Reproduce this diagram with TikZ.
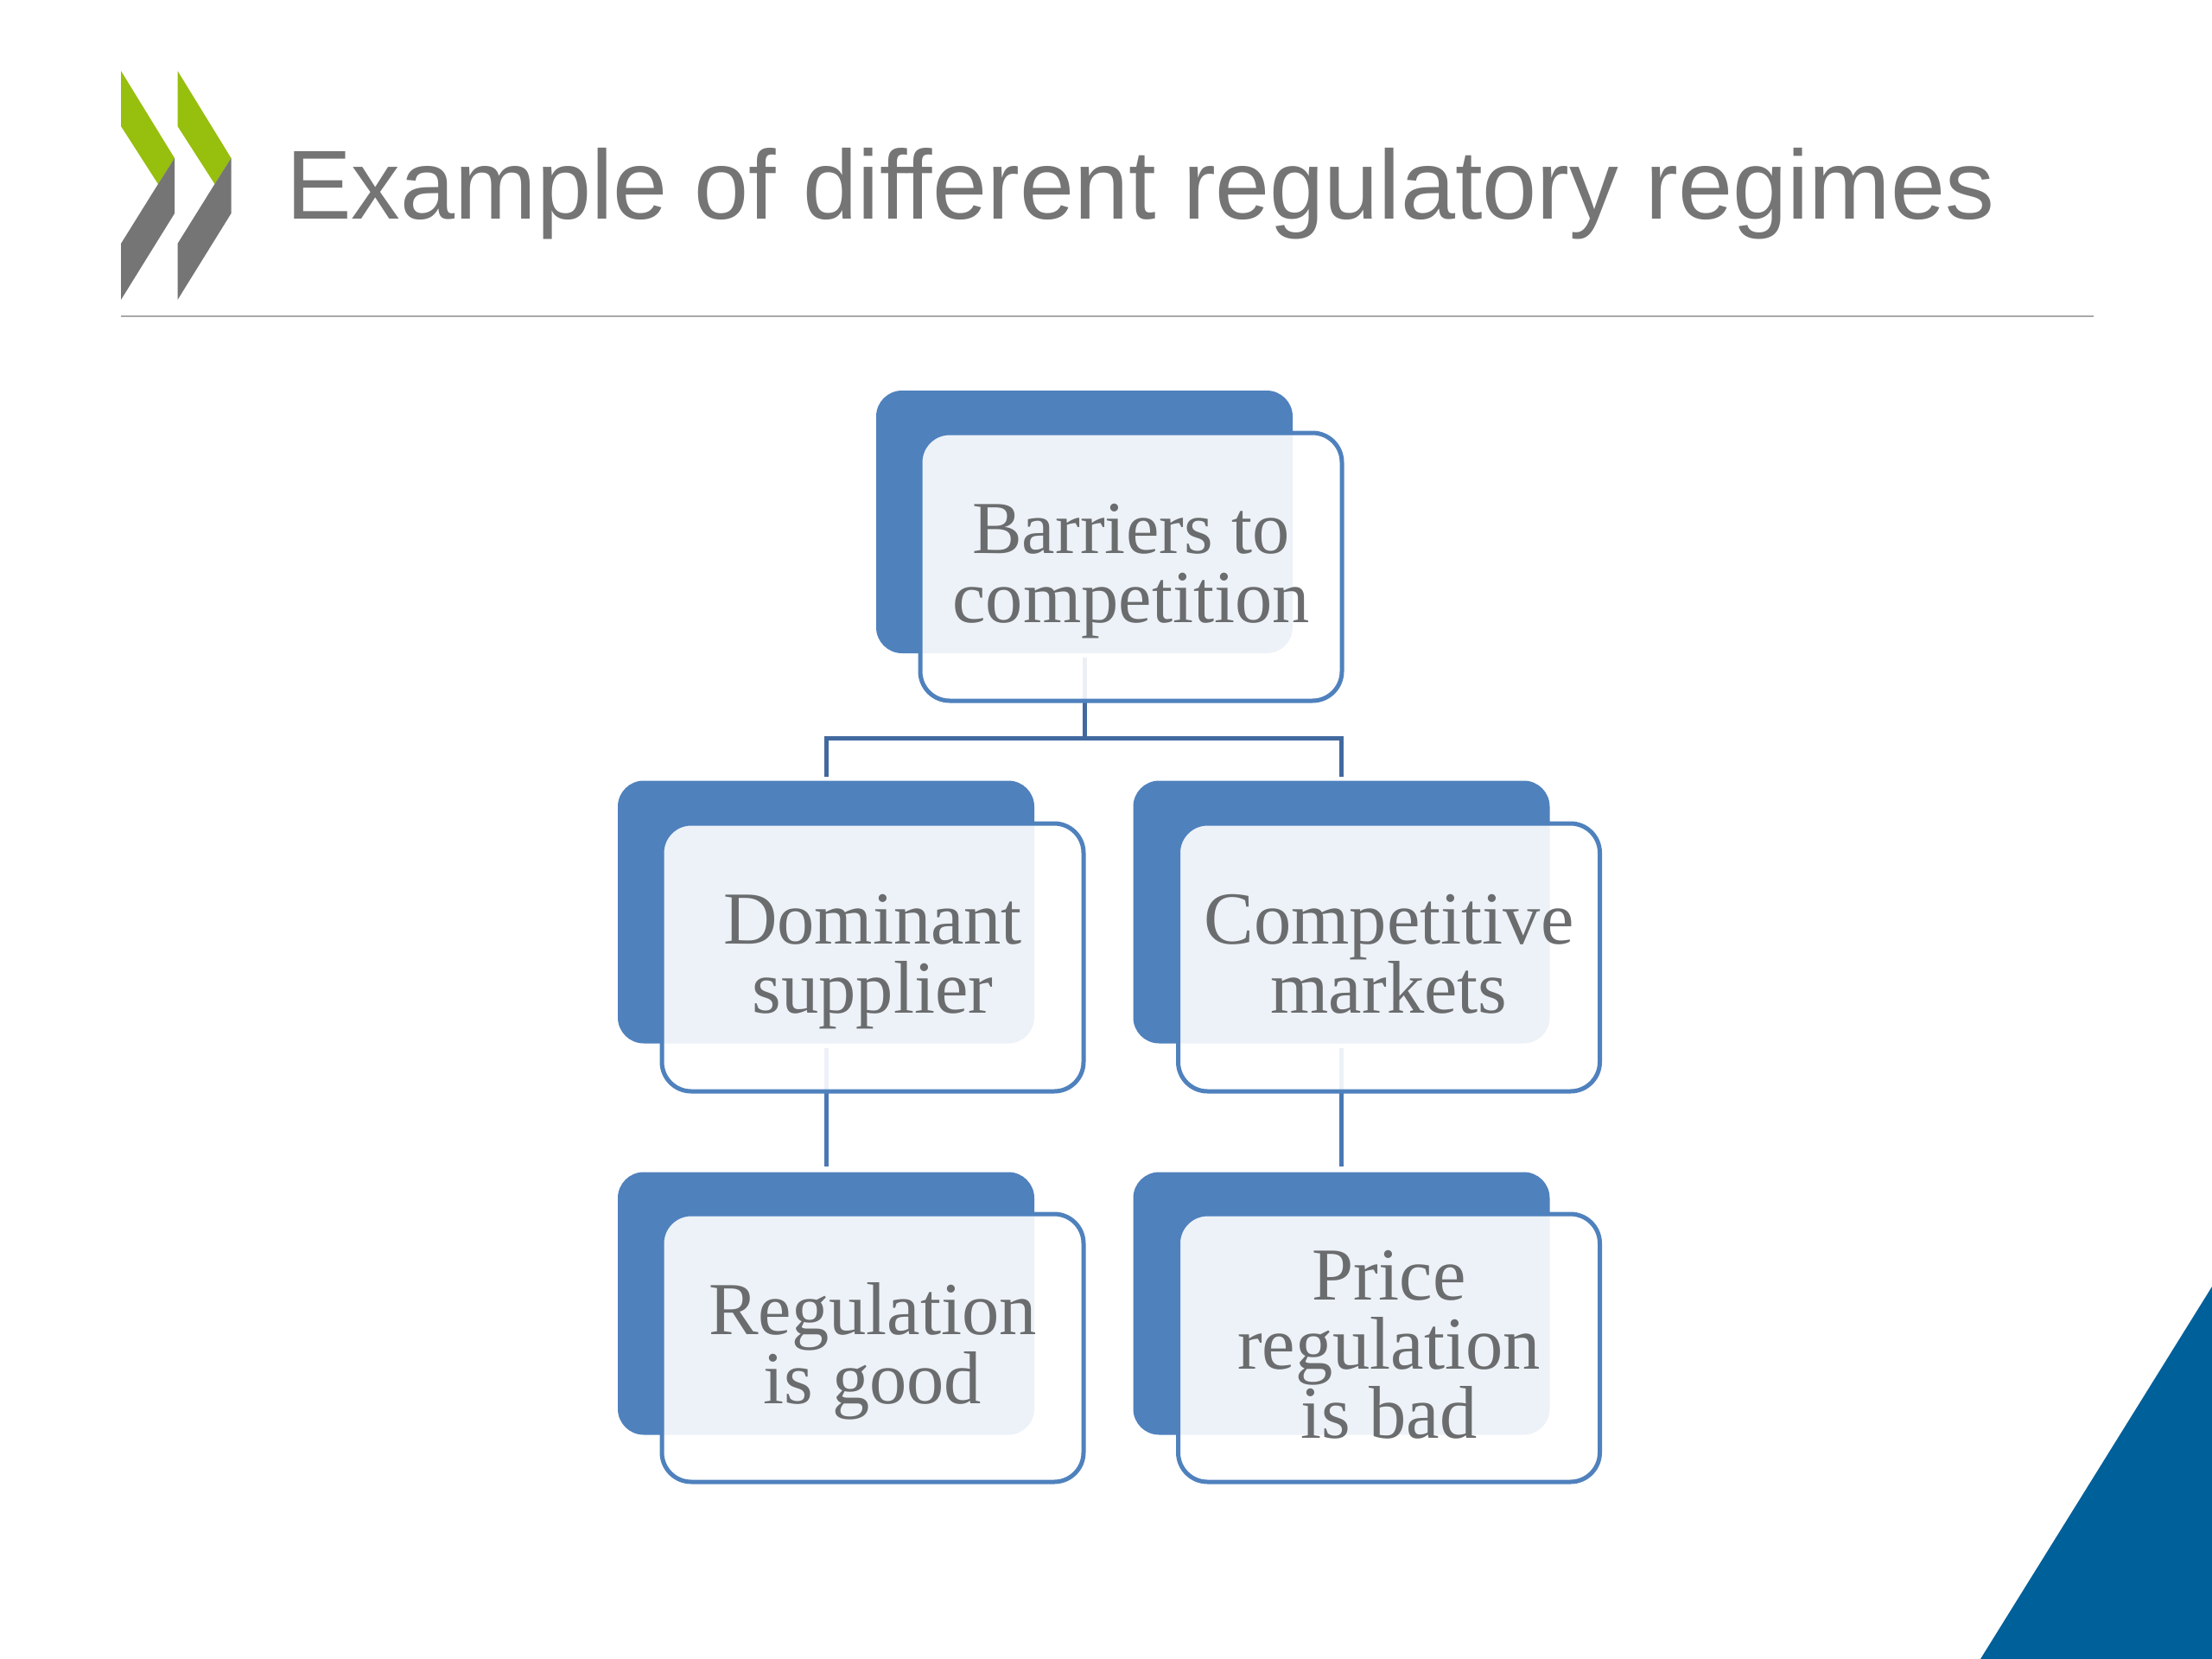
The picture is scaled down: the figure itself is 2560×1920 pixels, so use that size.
\documentclass[tikz,border=0pt]{standalone}
\usepackage{fontspec}
\setmainfont{Liberation Sans}
\newfontfamily\boxfont{Liberation Serif}
\definecolor{boxblue}{HTML}{4F81BD}
\definecolor{linkdark}{HTML}{41699F}
\definecolor{linkblue}{HTML}{4A78B4}
\definecolor{boxtext}{HTML}{6A6C6E}
\definecolor{titlegray}{HTML}{757575}
\definecolor{rulegray}{HTML}{A8A8A8}
\definecolor{logogreen}{HTML}{97BF0D}
\definecolor{logogray}{HTML}{757575}
\definecolor{cornerblue}{HTML}{00609A}
\newcommand\firstln{\rule{0pt}{68pt}}
\newcommand\lastln{\rule[-20pt]{0pt}{20pt}}
\tikzset{
  backbox/.style={rectangle,rounded corners=30pt,fill=boxblue,minimum width=482pt,minimum height=304pt,inner sep=0pt,outer sep=0pt},
  frontbox/.style={rectangle,rounded corners=34pt,draw=boxblue,line width=5pt,fill=white,fill opacity=.9,text opacity=1,
    minimum width=488pt,minimum height=310pt,inner sep=0pt,outer sep=0pt,align=center,text=boxtext,
    font=\boxfont\fontsize{86.5pt}{80pt}\selectfont},
  linktop/.style={draw=linkdark,line width=5pt},
  linklow/.style={draw=linkblue,line width=5pt},
  logog/.style={fill=logogreen},
  logok/.style={fill=logogray}
}
\begin{document}
\begin{tikzpicture}[x=1pt,y=-1pt]
\useasboundingbox (0,0) rectangle (2560,1920);
\fill[white] (0,0) rectangle (2560,1920);
% logo
\foreach \dx in {0,65.5}{
  \fill[logog,xshift=\dx pt] (140,82) -- (202,183) -- (183,213) -- (140,146) -- cycle;
  \fill[logok,xshift=\dx pt] (202,183) -- (202,247) -- (140,347) -- (140,282) -- (183,213) -- cycle;
}
% title
\node[anchor=base west,inner sep=0pt,text=titlegray,font=\fontsize{113.4pt}{116pt}\selectfont] (title) at (331,253) {Example of different regulatory regimes};
\draw[rulegray,line width=2.5pt] (140,366) -- (2423,366);
% corner
\fill[cornerblue] (2560,1489) -- (2560,1920) -- (2292,1920) -- cycle;
% back boxes
\node[backbox] (b1) at (1255,604) {};
\node[backbox] (b2) at (956,1055.5) {};
\node[backbox] (b3) at (1552.5,1055.5) {};
\node[backbox] (b4) at (956,1508.5) {};
\node[backbox] (b5) at (1552.5,1508.5) {};
% connectors
\coordinate (j) at (1255,854);
\draw[linktop,shorten <=5pt] (b1.south) -- (j);
\draw[linktop,shorten >=5pt] (j) -| (b2.north);
\draw[linktop,shorten >=5pt] (j) -| (b3.north);
\draw[linklow,shorten <=5pt,shorten >=7pt] (b2.south) -- (b4.north);
\draw[linklow,shorten <=5pt,shorten >=7pt] (b3.south) -- (b5.north);
% front boxes
\node[frontbox] (f1) at (1309,656) {\firstln Barriers to\\competition\lastln};
\node[frontbox] (f2) at (1010,1108) {\firstln Dominant\\supplier\lastln};
\node[frontbox] (f3) at (1607.5,1108) {\firstln Competitive\\markets\lastln};
\node[frontbox] (f4) at (1010,1560) {\firstln Regulation\\is good\lastln};
\node[frontbox] (f5) at (1607.5,1560) {\firstln Price\\regulation\\is bad\lastln};
\end{tikzpicture}
\end{document}
